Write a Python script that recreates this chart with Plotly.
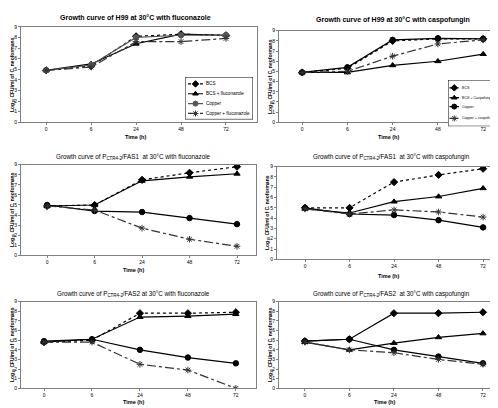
import plotly.graph_objects as go

W, H = 498, 408
time_labels = ["0", "6", "24", "48", "72"]
xi = [0, 1, 2, 3, 4]

# Panel data (log10 CFU/ml)
p1_bcs = [4.9, 5.3, 8.1, 8.3, 8.2]
p1_bcs_drug = [4.9, 5.5, 7.4, 8.3, 8.2]
p1_cu = [4.9, 5.4, 8.0, 8.2, 8.2]
p1_cu_drug = [4.9, 5.2, 7.6, 7.6, 7.9]

p2_bcs = [4.9, 5.3, 8.0, 8.2, 8.2]
p2_bcs_drug = [4.9, 4.9, 5.6, 6.0, 6.7]
p2_cu = [4.9, 5.4, 8.1, 8.25, 8.2]
p2_cu_drug = [4.9, 5.0, 6.5, 7.7, 8.1]

p3_bcs = [4.9, 5.0, 7.5, 8.2, 8.8]
p3_bcs_drug = [4.9, 5.0, 7.4, 7.8, 8.1]
p3_cu = [5.0, 4.4, 4.3, 3.7, 3.1]
p3_cu_drug = [4.9, 4.5, 2.7, 1.6, 0.9]

p4_bcs = [5.0, 5.0, 7.5, 8.2, 8.8]
p4_bcs_drug = [4.9, 4.5, 5.6, 6.1, 6.9]
p4_cu = [5.0, 4.4, 4.3, 3.8, 3.1]
p4_cu_drug = [4.9, 4.4, 4.8, 4.6, 4.1]

p5_bcs = [4.8, 5.0, 7.8, 7.8, 7.9]
p5_bcs_drug = [4.8, 5.1, 7.4, 7.5, 7.7]
p5_cu = [4.9, 5.1, 4.0, 3.2, 2.6]
p5_cu_drug = [4.8, 4.8, 2.5, 1.9, 0.0]

p6_bcs = [4.9, 5.1, 7.8, 7.8, 7.9]
p6_bcs_drug = [4.8, 4.0, 4.7, 5.3, 5.7]
p6_cu = [4.9, 5.1, 4.0, 3.3, 2.6]
p6_cu_drug = [4.8, 4.0, 3.7, 3.0, 2.5]

legend1_names = ["BCS", "BCS + fluconazole", "Copper", "Copper + fluconazole"]
legend2_names = ["BCS", "BCS + Caspofungin", "Copper", "Copper + caspofungin"]

FONT = "Liberation Sans"


def px_x(p):
    return p / W


def px_y(p):
    return 1 - p / H


panels = [
    dict(l=13, r=249, t=16, b=113, xr=[-0.56, 4.69]),
    dict(l=271, r=496, t=20, b=113, xr=[-0.51, 4.46]),
    dict(l=13, r=248, t=156, b=248, xr=[-0.55, 4.4]),
    dict(l=269, r=496, t=158, b=252, xr=[-0.63, 4.47]),
    dict(l=13, r=248, t=295, b=383, xr=[-0.48, 4.42]),
    dict(l=271, r=491, t=295, b=383, xr=[-0.58, 4.36]),
]

fig = go.Figure()
layout = {}
for i, p in enumerate(panels):
    n = "" if i == 0 else str(i + 1)
    layout["xaxis" + n] = dict(
        domain=[px_x(p["l"]), px_x(p["r"])], range=p["xr"],
        anchor="y" + n, tickmode="array", tickvals=xi, ticktext=time_labels,
        showgrid=False, zeroline=False, showline=True, linecolor="#808080",
        linewidth=1, mirror=True, ticks="outside", ticklen=2, tickcolor="#808080",
        tickfont=dict(size=5, family=FONT, color="black"),
    )
    layout["yaxis" + n] = dict(
        domain=[px_y(p["b"]), px_y(p["t"])], range=[0, 9], dtick=1,
        anchor="x" + n, showgrid=False, zeroline=False, showline=True,
        linecolor="#808080", linewidth=1, mirror=True, ticks="outside",
        ticklen=2, tickcolor="#808080",
        tickfont=dict(size=5, family=FONT, color="black"),
    )

data = [
    (p1_bcs, p1_bcs_drug, p1_cu, p1_cu_drug),
    (p2_bcs, p2_bcs_drug, p2_cu, p2_cu_drug),
    (p3_bcs, p3_bcs_drug, p3_cu, p3_cu_drug),
    (p4_bcs, p4_bcs_drug, p4_cu, p4_cu_drug),
    (p5_bcs, p5_bcs_drug, p5_cu, p5_cu_drug),
    (p6_bcs, p6_bcs_drug, p6_cu, p6_cu_drug),
]


def styles(i):
    cu_color = "#555555" if i == 0 else "black"
    bcs_dash = "solid" if i == 5 else "dot"
    return [
        (bcs_dash, "diamond", "black"),
        ("solid", "triangle-up", "black"),
        ("solid", "circle", cu_color),
        ("dashdot", "asterisk-open", "#333333"),
    ]


for i, series in enumerate(data):
    n = "" if i == 0 else str(i + 1)
    xa, ya = "x" + n, "y" + n
    names = legend1_names if i % 2 == 0 else legend2_names
    for vals, (dash, sym, col), nm in zip(series, styles(i), names):
        fig.add_trace(go.Scatter(
            x=xi, y=vals, mode="lines+markers", name=nm,
            xaxis=xa, yaxis=ya, showlegend=False,
            line=dict(color=col, width=1.2, dash=dash),
            marker=dict(symbol=sym, size=5.5, color=col,
                        line=dict(color=col, width=1)),
        ))

# Boxed legends drawn as small overlay subplots (x7/y7 and x8/y8)
legends = [
    dict(box=(177, 245, 67, 110), rows=[74, 84, 94, 104], names=legend1_names,
         sty=styles(0), ax="7", samp=(3, 18), fs=4.6),
    dict(box=(440, 497, 70, 117), rows=[78, 88, 97, 109], names=legend2_names,
         sty=styles(1), ax="8", samp=(1.5, 11), fs=3.6),
]
ann = []
for lg in legends:
    l, r, t, b = lg["box"]
    w, h = r - l, b - t
    ax = lg["ax"]
    layout["xaxis" + ax] = dict(domain=[px_x(l), px_x(r)], range=[0, w],
                                visible=False, anchor="y" + ax, fixedrange=True)
    layout["yaxis" + ax] = dict(domain=[px_y(b), px_y(t)], range=[h, 0],
                                visible=False, anchor="x" + ax, fixedrange=True)
    fig.add_trace(go.Scatter(
        x=[0, w, w, 0, 0], y=[0, 0, h, h, 0], mode="lines", fill="toself",
        fillcolor="white", line=dict(color="black", width=1),
        xaxis="x" + ax, yaxis="y" + ax, showlegend=False, hoverinfo="skip"))
    s0, s1 = lg["samp"]
    for row, nm, (dash, sym, col) in zip(lg["rows"], lg["names"], lg["sty"]):
        yy = row - t
        fig.add_trace(go.Scatter(
            x=[s0, s1], y=[yy, yy], mode="lines",
            line=dict(color=col, width=1.2, dash=dash),
            xaxis="x" + ax, yaxis="y" + ax, showlegend=False, hoverinfo="skip"))
        fig.add_trace(go.Scatter(
            x=[(s0 + s1) / 2], y=[yy], mode="markers",
            marker=dict(symbol=sym, size=5, color=col, line=dict(color=col, width=1)),
            xaxis="x" + ax, yaxis="y" + ax, showlegend=False, hoverinfo="skip"))
        ann.append(dict(text=nm, x=s1 + 0.8, y=yy, xref="x" + ax, yref="y" + ax,
                        showarrow=False, xanchor="left", yanchor="middle",
                        font=dict(size=lg["fs"], family=FONT, color="black")))

titles = [
    ("<b>Growth curve of H99 at 30°C with fluconazole</b>", 128, 7, 7),
    ("<b>Growth curve of H99 at 30°C with caspofungin</b>", 385, 9, 7),
    ("Growth curve of P<sub>CTR4-2</sub>/FAS1  at 30°C with fluconazole", 125, 148, 6.3),
    ("Growth curve of P<sub>CTR4-2</sub>/FAS1  at 30°C with caspofungin", 383, 148, 6.3),
    ("Growth curve of P<sub>CTR4-2</sub>/FAS2 at 30°C with fluconazole", 125, 287, 6.3),
    ("Growth curve of P<sub>CTR4-2</sub>/FAS2  at 30°C with caspofungin", 383, 287, 6.3),
]
for t, x, y, fs in titles:
    ann.append(dict(text=t, x=px_x(x), y=px_y(y), xref="paper", yref="paper",
                    showarrow=False, xanchor="center", yanchor="middle",
                    font=dict(size=fs, family=FONT, color="black")))

ylab = "<b>Log<sub>10</sub> CFU/ml of C. neoformans</b>"
ylab_pos = [(4, 65), (262, 67), (4, 202), (260, 205), (4, 339), (262, 339)]
for x, y in ylab_pos:
    ann.append(dict(text=ylab, x=px_x(x), y=px_y(y), xref="paper", yref="paper",
                    showarrow=False, textangle=-90, xanchor="center", yanchor="middle",
                    font=dict(size=5, family=FONT, color="black")))

xlab_pos = [(128, 128), (380, 128), (125, 263), (380, 269), (125, 397), (376, 397)]
for x, y in xlab_pos:
    ann.append(dict(text="<b>Time (h)</b>", x=px_x(x), y=px_y(y), xref="paper",
                    yref="paper", showarrow=False, xanchor="center", yanchor="middle",
                    font=dict(size=5.5, family=FONT, color="black")))

fig.update_layout(
    width=W, height=H, margin=dict(l=0, r=0, t=0, b=0),
    paper_bgcolor="white", plot_bgcolor="rgba(0,0,0,0)",
    annotations=ann, showlegend=False,
    **layout,
)

fig.write_html("out.html")
